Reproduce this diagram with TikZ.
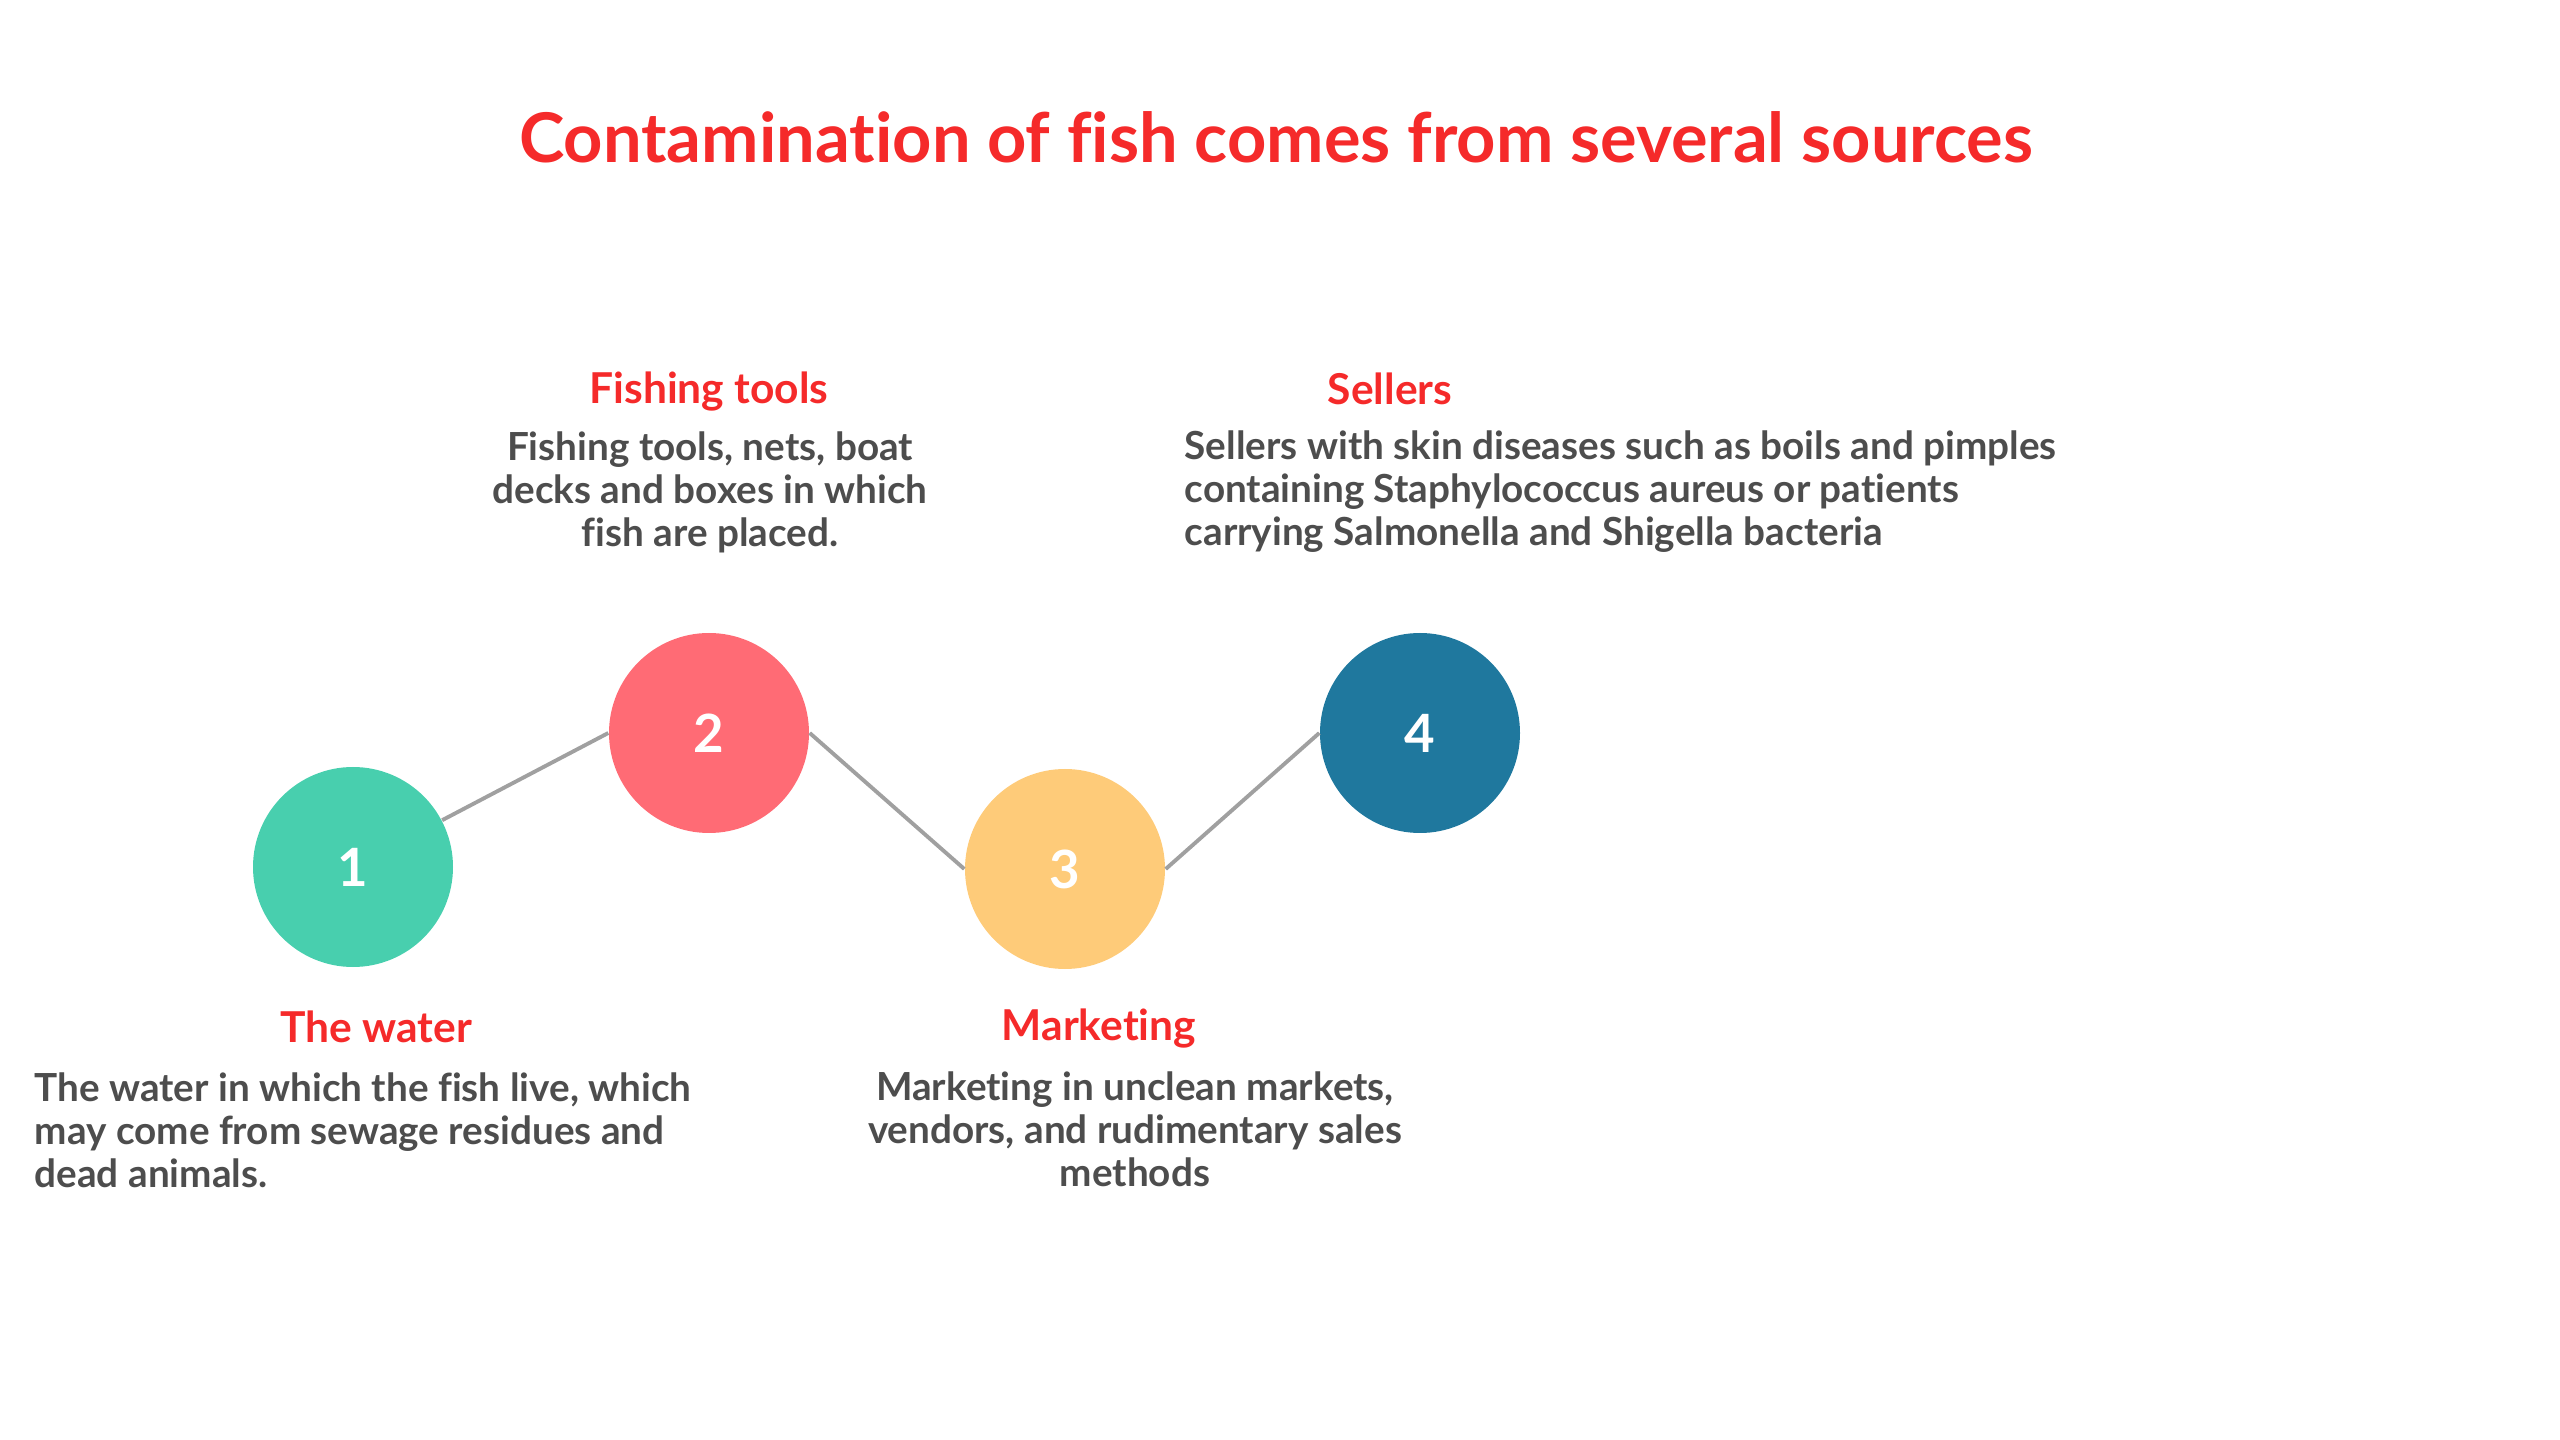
\documentclass[tikz,border=0pt]{standalone}
\usepackage{fontspec}
\setmainfont[Ligatures=NoCommon]{Lato}
\definecolor{titlered}{HTML}{F52A2A}
\definecolor{bodygray}{HTML}{4D4D4D}
\definecolor{linegray}{HTML}{A0A0A0}
\definecolor{cA}{HTML}{48CFAE}
\definecolor{cB}{HTML}{FF6B75}
\definecolor{cC}{HTML}{FECB79}
\definecolor{cD}{HTML}{1F789E}
\tikzset{
  stepcircle/.style={circle, minimum size=200*0.01cm, inner sep=0pt, text=white, font=\bfseries\fontsize{15}{18}\selectfont},
  heading/.style={text=titlered, font=\bfseries\fontsize{12.1}{14}\selectfont, inner sep=0pt},
  bodytext/.style={text=bodygray, font=\bfseries\fontsize{11}{12.2}\selectfont, inner sep=0pt},
  link/.style={draw=linegray, line width=1.1pt}
}
\begin{document}
\begin{tikzpicture}[x=0.01cm, y=-0.01cm]
\useasboundingbox (0,0) rectangle (2560,1440);
\node[text=titlered, font=\bfseries\fontsize{19.5}{23}\selectfont, inner sep=0pt] (title) at (1276,137) {Contamination of fish comes from several sources};

\node[stepcircle, fill=cA] (c1) at (353,867) {1};
\node[stepcircle, fill=cB] (c2) at (709,733) {2};
\node[stepcircle, fill=cC] (c3) at (1065,869) {3};
\node[stepcircle, fill=cD] (c4) at (1420,733) {4};

\draw[link] (c1) -- (c2.west);
\draw[link] (c2.east) -- (c3.west);
\draw[link] (c3.east) -- (c4.west);

\node[heading] (h2) at (709,392) {Fishing tools};
\node[bodytext, align=center] (b2) at (710,492) {Fishing tools, nets, boat\\decks and boxes in which\\fish are placed.};

\node[heading] (h4) at (1390,389) {Sellers};
\node[bodytext, align=left, anchor=west] (b4) at (1184,492) {Sellers with skin diseases such as boils and pimples\\containing Staphylococcus aureus or patients\\carrying Salmonella and Shigella bacteria};

\node[heading] (h1) at (376,1027) {The water};
\node[bodytext, align=left, anchor=west] (b1) at (34,1130) {The water in which the fish live, which\\may come from sewage residues and\\dead animals.};

\node[heading] (h3) at (1099,1029) {Marketing};
\node[bodytext, align=center] (b3) at (1135,1129) {Marketing in unclean markets,\\vendors, and rudimentary sales\\methods};
\end{tikzpicture}
\end{document}
